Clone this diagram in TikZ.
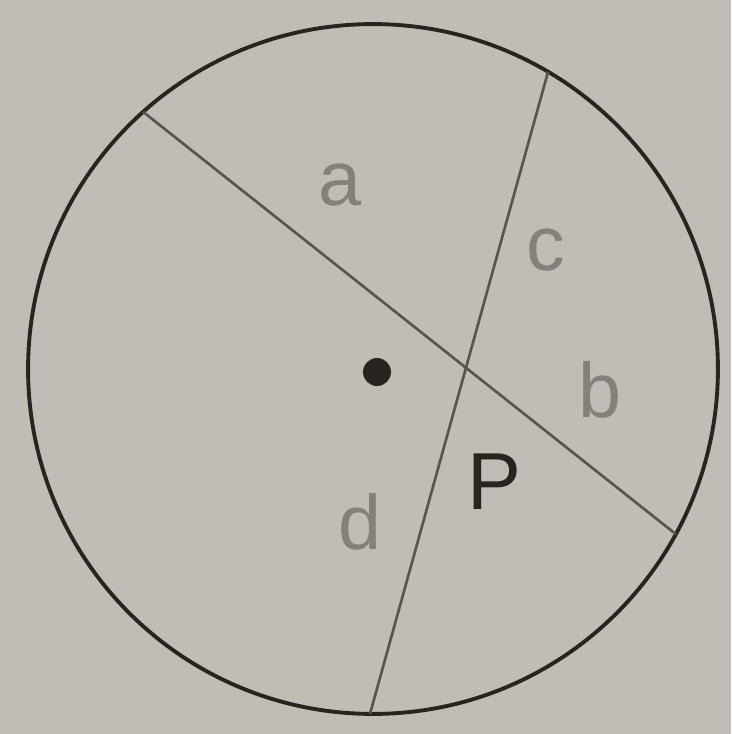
\documentclass[tikz,border=0pt]{standalone}
\usepackage{fontspec}
\setmainfont{Liberation Sans}
\usetikzlibrary{calc}
\definecolor{paper}{RGB}{192,188,182}
\definecolor{ink}{RGB}{40,36,34}
\definecolor{chordink}{RGB}{88,84,80}
\definecolor{pale}{RGB}{132,128,124}

\begin{document}
\begin{tikzpicture}[
  x=0.02cm,y=-0.02cm,
  rim/.style={draw=ink, line width=2.2pt},
  chord/.style={draw=chordink, line width=1.5pt},
  seglabel/.style={font=\fontsize{44}{44}\selectfont, text=pale, inner sep=0pt},
  ptlabel/.style={font=\fontsize{46}{46}\selectfont, text=ink, inner sep=0pt}
]
  \fill[paper] (0,0) rectangle (731,734);
  \useasboundingbox (0,0) rectangle (731,734);

  \coordinate (o) at (373,369);
  \draw[rim] (o) circle[radius=6.9cm];
  \fill[ink] (377,372) circle[radius=0.28cm];

  \coordinate (a1) at ($(o)+(131.8:6.9cm)$);
  \coordinate (b1) at ($(o)+(-28.6:6.9cm)$);
  \coordinate (c1) at ($(o)+(59.5:6.9cm)$);
  \coordinate (d1) at ($(o)+(-90.5:6.9cm)$);

  \draw[chord] (a1) -- (b1);
  \draw[chord] (c1) -- (d1);

  \node[seglabel] (a) at (340,185) {a};
  \node[seglabel] (c) at (546,250) {c};
  \node[seglabel] (b) at (600,390) {b};
  \node[seglabel] (d) at (360,522) {d};
  \node[ptlabel] (p) at (494,482) {P};
\end{tikzpicture}
\end{document}
